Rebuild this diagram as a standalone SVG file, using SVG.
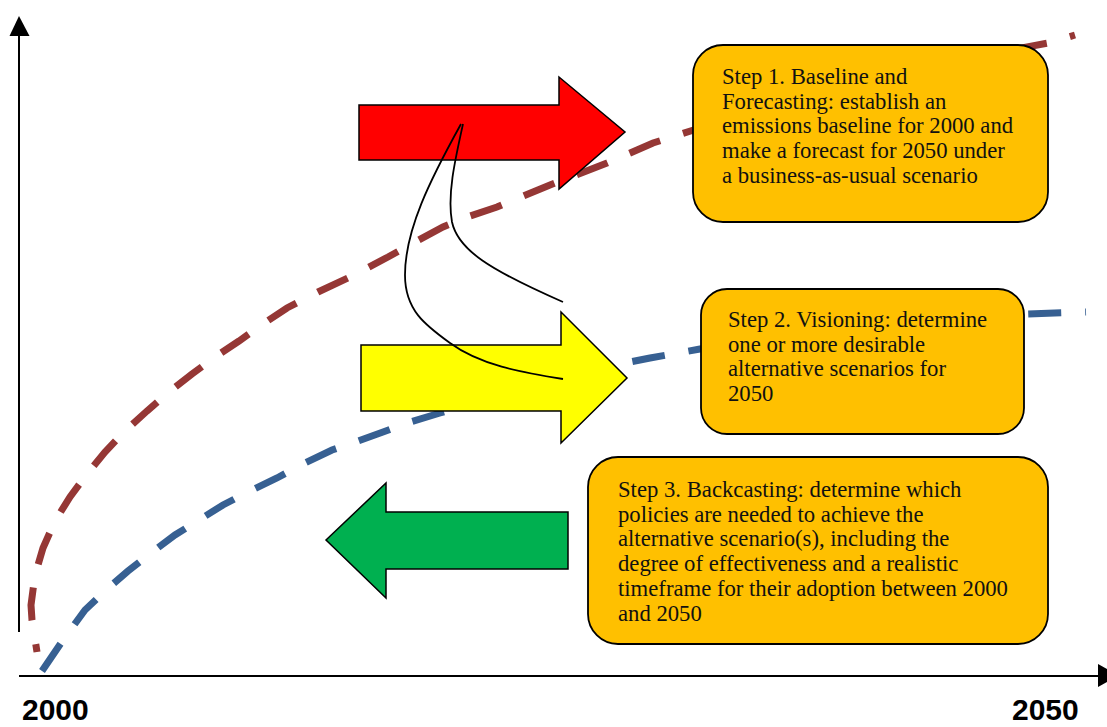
<svg xmlns="http://www.w3.org/2000/svg" width="1107" height="727" viewBox="0 0 1107 727">
<style>
.axis{stroke:#000;stroke-width:2;fill:none}
.ahead{fill:#000}
.dash{fill:none;stroke-width:7;stroke-dasharray:33 24}
.red{stroke:#953735}
.blue{stroke:#376092}
.arrow{stroke:#000;stroke-width:1.5;stroke-linejoin:miter}
.box{fill:#FFC000;stroke:#000;stroke-width:1.8}
.txt{font-family:"Liberation Serif","Times New Roman",serif;font-size:22.7px;fill:#111}
.year{font-family:"Liberation Sans",Arial,sans-serif;font-weight:bold;font-size:30px;fill:#000}
.link{fill:none;stroke:#000;stroke-width:1.8}
</style>
<rect width="1107" height="727" fill="#fff"/>
<g id="axes">
<line class="axis" x1="19" y1="632" x2="19" y2="34"/>
<polygon class="ahead" points="19,16 9.5,36 29.5,36"/>
<line class="axis" x1="19" y1="676" x2="1100" y2="676"/>
<polygon class="ahead" points="1098,664 1119,675.5 1098,687"/>
<text class="year" x="22" y="720">2000</text>
<text class="year" x="1012" y="720">2050</text>
</g>
<g id="connectors">
<polyline class="dash red" stroke-dashoffset="25" points="37,652 32,620 31,605 35,575 43,548 55,521 70,497 87,474 105,452 125,431 147,411 169,392 192,374 215,357 239,341 263,324 287,308 318,292 350,277 388,257 415,242 443,227 470,216 497,207 550,185 607,163 653,143 700,128 800,100 900,75 1000,52 1048,43 1075,35"/>
<polyline class="dash blue" points="42,671 63,640 85,610 106,590 128,571 151,553 175,535 199,520 223,505 250,491 277,478 305,463 332,450 358,441 383,432 410,422 440,413 485,400 530,388 575,376 620,364 650,358 700,349 800,335 900,324 1025,314 1086,312"/>
</g>
<g id="arrow-red">
<polygon class="arrow" fill="#FF0000" points="359,105 559,105 559,77 625,132 559,189 559,160 359,160"/>
</g>
<g id="arrow-yellow">
<polygon class="arrow" fill="#FFFF00" points="361,345 561,345 561,312 627,378 561,443 561,411 361,411"/>
</g>
<g id="arrow-green">
<polygon class="arrow" fill="#00B050" points="326,540 386,483 386,512 568,512 568,569 386,569 386,598"/>
</g>
<g id="loop-lines">
<path class="link" d="M461,124 C430,180 405,230 405,275 C405,310 425,325 450,343 C480,365 520,372 563,379"/>
<path class="link" d="M463,124 C455,160 447,195 452,222 C458,250 490,270 563,302"/>
</g>
<g id="step1">
<rect class="box" x="693" y="45" width="355" height="177" rx="30" ry="30"/>
<text class="txt" x="722" y="84">Step 1. Baseline and</text>
<text class="txt" x="722" y="108.7">Forecasting: establish an</text>
<text class="txt" x="722" y="133.4">emissions baseline for 2000 and</text>
<text class="txt" x="722" y="158.1">make a forecast for 2050 under</text>
<text class="txt" x="722" y="182.8">a business-as-usual scenario</text>
</g>
<g id="step2">
<rect class="box" x="701" y="289" width="323" height="145" rx="26" ry="26"/>
<text class="txt" x="728" y="327">Step 2. Visioning: determine</text>
<text class="txt" x="728" y="351.7">one or more desirable</text>
<text class="txt" x="728" y="376.4">alternative scenarios for</text>
<text class="txt" x="728" y="401.1">2050</text>
</g>
<g id="step3">
<rect class="box" x="588" y="457" width="460" height="187" rx="30" ry="30"/>
<text class="txt" x="618" y="497">Step 3. Backcasting: determine which</text>
<text class="txt" x="618" y="521.7">policies are needed to achieve the</text>
<text class="txt" x="618" y="546.4">alternative scenario(s), including the</text>
<text class="txt" x="618" y="571.1">degree of effectiveness and a realistic</text>
<text class="txt" x="618" y="595.8">timeframe for their adoption between 2000</text>
<text class="txt" x="618" y="620.5">and 2050</text>
</g>
</svg>
